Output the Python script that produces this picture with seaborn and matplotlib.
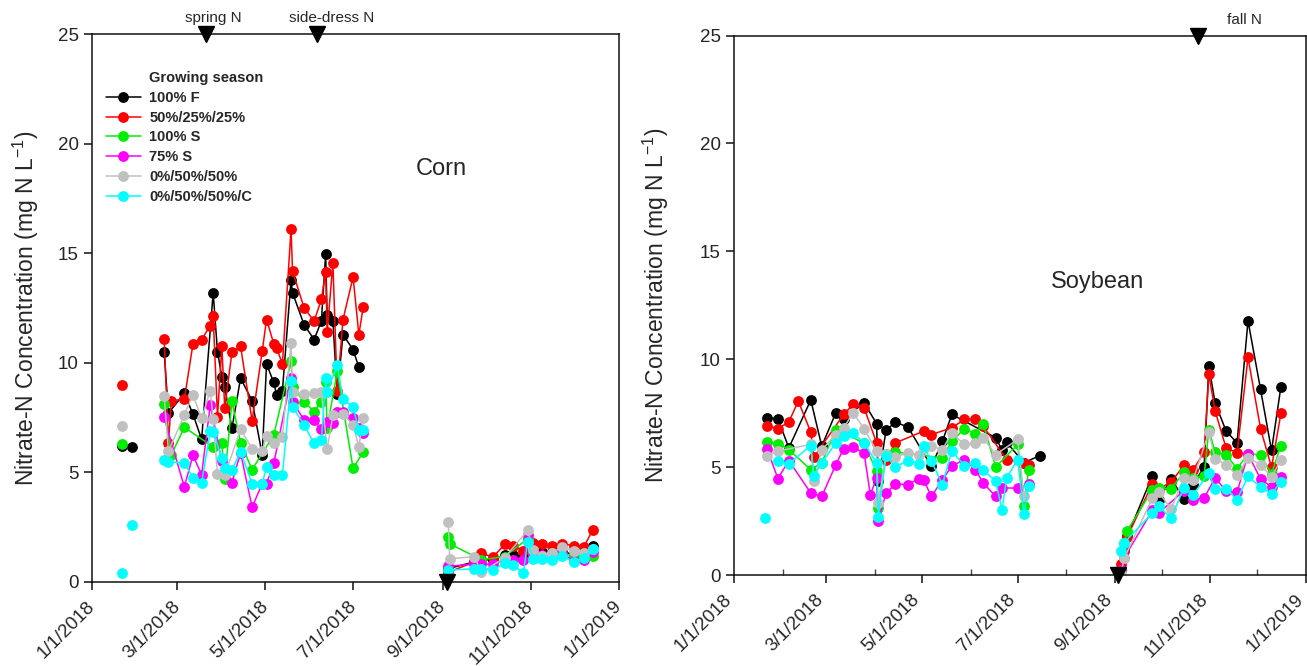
import numpy as np
import pandas as pd
import matplotlib
matplotlib.use("Agg")
import matplotlib.pyplot as plt
import matplotlib.dates as mdates
from matplotlib.lines import Line2D
from matplotlib.ticker import FuncFormatter
from matplotlib.transforms import ScaledTranslation
import seaborn as sns

nan = np.nan

series_names = ["100% F", "50%/25%/25%", "100% S", "75% S", "0%/50%/50%", "0%/50%/50%/C"]
series_colors = ["#000000", "#ff0000", "#00ee00", "#ff00ff", "#c0c0c0", "#00ffff"]

# ---------------- Corn ----------------
corn_dates = ["2018-01-22", "2018-01-29",
              "2018-02-20", "2018-02-23", "2018-02-25", "2018-03-06", "2018-03-12", "2018-03-18",
              "2018-03-24", "2018-03-26", "2018-03-29", "2018-04-01", "2018-04-03", "2018-04-08",
              "2018-04-14", "2018-04-22", "2018-04-29", "2018-05-02", "2018-05-07", "2018-05-09",
              "2018-05-13", "2018-05-19", "2018-05-20", "2018-05-28", "2018-06-04", "2018-06-09",
              "2018-06-12", "2018-06-13", "2018-06-17", "2018-06-20", "2018-06-24", "2018-07-01",
              "2018-07-05", "2018-07-08",
              "2018-09-05", "2018-09-06", "2018-09-23", "2018-09-28", "2018-10-06", "2018-10-14",
              "2018-10-20", "2018-10-27", "2018-10-30", "2018-11-03", "2018-11-09", "2018-11-16",
              "2018-11-23", "2018-12-01", "2018-12-08", "2018-12-14"]
corn_segment = [0, 1] + [2] * 32 + [3] * 16

corn_100F = [6.2, 6.15,
             10.5, 7.7, nan, 8.6, 7.65, 6.5, nan, 13.2, 10.5, 9.37, 8.9, 7.0, 9.3, 8.26, 5.8, 9.94,
             9.1, 8.53, 8.72, 13.8, 13.2, 11.74, 11.06, 11.9, 14.98, 12.16, 11.9, 8.58, 11.28, 10.6,
             9.79, nan,
             0.6, nan, 0.9, 1.0, 1.0, 1.2, 1.2, 1.15, 1.9, 1.4, 1.35, 1.35, 1.35, 1.27, 1.25, 1.65]
corn_50_25_25 = [9.0, nan,
                 11.1, 6.35, 8.27, 8.33, 10.86, 11.06, 11.7, 12.12, 7.54, 10.78, 7.95, 10.47, 10.75,
                 7.35, 10.52, 11.97, 10.87, 10.67, 9.95, 16.1, 14.19, 12.51, 11.9, 12.89, 14.14,
                 11.39, 14.54, 8.7, 11.97, 13.91, 11.28, 12.54,
                 0.43, nan, 0.9, 1.3, 1.12, 1.7, 1.64, 1.42, 1.9, 1.76, 1.7, 1.65, 1.73, 1.65, 1.6, 2.34]
corn_100S = [6.3, nan,
             8.1, nan, 5.8, 7.05, nan, nan, nan, 6.16, nan, 6.32, 4.71, 8.23, 6.35, 5.12, nan, nan,
             6.7, nan, nan, 10.06, 8.9, 8.22, 7.77, 8.22, 9.14, 7.0, nan, 9.6, nan, 5.17, nan, 5.93,
             2.06, 1.73, nan, 1.0, nan, 1.15, nan, nan, 1.96, 1.3, nan, 1.3, nan, 1.2, nan, 1.19]
corn_75S = [nan, nan,
            7.5, nan, nan, 4.33, 5.77, 4.89, 8.07, nan, nan, 5.52, nan, 4.53, 5.89, 3.4, 4.48, 4.48,
            5.4, nan, nan, 9.3, 8.22, 7.39, 7.39, 6.96, nan, 7.31, 7.23, 7.77, 7.77, 7.46, 7.0, 6.8,
            0.7, nan, 0.81, 0.8, 0.8, 1.0, 1.0, 1.0, 2.11, 1.2, 1.2, 1.15, 1.3, 0.95, 1.0, 1.35]
corn_0_50_50 = [7.1, nan,
                8.49, 5.96, nan, 7.61, 8.53, 7.46, 8.73, 7.42, 4.9, nan, 4.86, nan, 6.96, 6.06, 5.98,
                6.65, 6.32, nan, 6.62, 10.9, 8.68, 8.58, 8.64, 8.68, nan, 6.04, 7.61, nan, 7.66, 7.16,
                6.16, 7.46,
                2.72, 1.04, 1.15, 0.43, nan, 1.09, nan, nan, 2.34, 1.45, 1.19, 1.3, 1.6, 1.4, 1.3, 1.5]
corn_0_50_50_C = [0.4, 2.57,
                  5.58, 5.47, nan, 5.43, 4.74, 4.53, 6.88, 6.85, nan, 5.67, 5.17, 5.09, 5.93, 4.48,
                  4.48, 5.24, 4.86, nan, 4.86, 9.17, 8.0, 7.16, 6.32, 6.47, 9.3, 8.68, nan, 9.88, 8.35,
                  7.97, 6.93, 6.93,
                  0.54, nan, 0.58, 0.6, 0.54, 0.84, 0.78, 0.38, 1.8, 1.04, 1.04, 1.0, 1.19, 0.89, 1.09, 1.5]

# ---------------- Soybean ----------------
soy_dates = ["2018-01-21",
             "2018-01-22", "2018-01-29", "2018-02-05", "2018-02-11", "2018-02-19", "2018-02-21",
             "2018-02-26", "2018-03-07", "2018-03-12", "2018-03-18", "2018-03-25", "2018-03-29",
             "2018-04-02", "2018-04-03", "2018-04-08", "2018-04-14", "2018-04-22", "2018-04-29",
             "2018-05-02", "2018-05-07", "2018-05-14", "2018-05-20", "2018-05-28", "2018-06-04",
             "2018-06-09", "2018-06-17", "2018-06-21", "2018-06-24", "2018-07-01", "2018-07-05",
             "2018-07-08", "2018-07-15",
             "2018-09-05", "2018-09-07", "2018-09-09", "2018-09-25", "2018-09-29", "2018-10-07",
             "2018-10-15", "2018-10-21", "2018-10-28", "2018-10-31", "2018-11-04", "2018-11-11",
             "2018-11-18", "2018-11-25", "2018-12-03", "2018-12-10", "2018-12-16"]
soy_segment = [0] + [1] * 32 + [2] * 17

soy_100F = [nan,
            7.29, 7.24, 5.89, nan, 8.11, nan, 5.97, 7.52, 7.21, nan, 7.99, nan, 7.01, 4.34, 6.7, 7.09,
            6.85, nan, nan, 5.04, 6.2, 7.44, nan, nan, nan, 6.36, 5.8, 6.15, nan, 5.2, nan, 5.53,
            0.3, 1.2, 1.8, 4.6, 3.49, 4.47, 3.52, 4.19, 5.01, 9.69, 7.98, 6.67, 6.12, 11.78, 8.6, 5.77, 8.73]
soy_50_25_25 = [nan,
                6.9, 6.78, 7.09, 8.06, 6.62, 5.47, nan, nan, 7.44, 7.91, 7.75, nan, 6.12, nan, 5.35,
                6.12, nan, nan, 6.67, 6.51, nan, 6.82, 7.21, 7.21, 6.9, nan, nan, 5.35, nan, 5.2, 5.1, nan,
                0.5, 1.1, 1.78, 4.23, 4.0, 4.3, 5.08, 4.88, 5.69, 9.3, 7.6, 5.89, 5.66, 10.08, 6.78, 4.99, 7.49]
soy_100S = [nan,
            6.17, 6.09, 5.81, nan, 4.88, nan, 5.2, 6.74, 6.6, nan, 6.1, nan, 4.81, 3.1, 5.6, 5.7,
            nan, nan, nan, nan, 5.43, 6.2, 6.78, 6.54, 7.02, 5.0, nan, nan, 6.05, 3.18, 4.88, nan,
            nan, 1.5, 2.06, 3.95, 4.03, 4.0, 4.76, 4.5, 4.57, 6.74, 5.69, 5.58, 4.92, 5.63, 5.55, 4.7, 6.0]
soy_75S = [nan,
           5.86, 4.47, 5.3, nan, 3.8, nan, 3.64, 5.12, 5.86, 5.92, 5.66, 3.72, 4.5, 2.48, 3.8, 4.22,
           4.19, 4.47, 4.4, 3.64, 4.42, 5.04, 5.35, 4.88, 4.27, 3.64, 4.03, nan, 4.03, nan, 4.2, nan,
           0.23, 0.8, nan, 3.0, 2.87, nan, 3.9, 3.49, 3.57, nan, 4.5, 3.9, 3.83, 5.6, 4.45, 4.08, 4.54]
soy_0_50_50 = [nan,
               5.5, 5.74, nan, nan, 6.05, 4.34, 5.8, 6.51, 6.82, 7.52, 6.78, nan, 5.74, 3.33, 5.6,
               5.47, 5.66, 5.58, 5.9, 5.97, 5.81, 6.59, 6.05, 6.12, 6.36, 5.58, nan, nan, 6.28, 3.67,
               nan, nan,
               0.08, 0.78, nan, 3.57, 3.83, 3.06, 4.5, 4.42, nan, 6.62, 5.38, 5.12, 4.62, 5.43, 5.12, 4.53, 5.35]
soy_0_50_50_C = [2.64,
                 nan, 5.27, 5.15, nan, 6.0, 4.57, 5.2, 6.12, 6.43, 6.59, 6.12, nan, 5.2, 2.71, 5.53,
                 5.01, 5.3, 5.16, 5.97, 5.27, 4.19, 5.74, 5.07, 5.2, 4.88, 4.34, 3.02, 4.5, 5.35, 2.84,
                 4.14, nan,
                 1.13, 1.5, nan, 2.87, 3.18, 2.64, 4.03, 3.72, nan, 4.73, 3.99, 3.99, 3.49, 4.57, 4.08, 3.77, 4.31]

# fertilizer event markers
corn_events = ["2018-03-21", "2018-06-06"]
corn_event_labels = ["spring N", "side-dress N"]
corn_event_label_dates = ["2018-03-26", "2018-06-16"]
corn_harvest = "2018-09-04"
soy_events = ["2018-10-24"]
soy_event_labels = ["fall N"]
soy_event_label_dates = ["2018-11-23"]
soy_harvest = "2018-09-03"

yticks = [0, 5, 10, 15, 20, 25]
ylabel = "Nitrate-N Concentration (mg N L$^{-1}$)"


def build(dates, segs, cols):
    rows = []
    for name, vals in zip(series_names, cols):
        for d, s, v in zip(dates, segs, vals):
            if not np.isnan(v):
                rows.append((pd.Timestamp(d), s, name, v))
    return pd.DataFrame(rows, columns=["date", "seg", "series", "value"])


corn_df = build(corn_dates, corn_segment,
                [corn_100F, corn_50_25_25, corn_100S, corn_75S, corn_0_50_50, corn_0_50_50_C])
soy_df = build(soy_dates, soy_segment,
               [soy_100F, soy_50_25_25, soy_100S, soy_75S, soy_0_50_50, soy_0_50_50_C])

sns.set_style("ticks")
plt.rcParams["font.family"] = ["Liberation Sans", "DejaVu Sans"]
plt.rcParams["mathtext.fontset"] = "custom"
plt.rcParams["mathtext.rm"] = "Liberation Sans"
plt.rcParams["mathtext.default"] = "regular"

fig = plt.figure(figsize=(13.07, 6.66), dpi=100)
axL = fig.add_axes([92 / 1307, (666 - 581.7) / 666, 526.5 / 1307, 547.4 / 666])
axR = fig.add_axes([734 / 1307, (666 - 575) / 666, 572 / 1307, 539.5 / 666])

palette = dict(zip(series_names, series_colors))
MS = 7.8
LW = 1.1

for ax, df, dx in [(axL, corn_df, -4), (axR, soy_df, -8)]:
    sns.lineplot(data=df, x="date", y="value", hue="series", units="seg", estimator=None,
                 hue_order=series_names, palette=palette, marker="o", markersize=MS,
                 markeredgewidth=0, linewidth=LW, legend=False, ax=ax)
    ax.set_xlim(pd.Timestamp("2018-01-01"), pd.Timestamp("2019-01-01"))
    ax.set_ylim(0, 25)
    ax.set_yticks(yticks)
    ax.set_xlabel("")
    ax.set_ylabel(ylabel, fontsize=16.5)
    ax.xaxis.set_major_locator(mdates.MonthLocator(bymonth=[1, 3, 5, 7, 9, 11]))
    ax.xaxis.set_major_formatter(FuncFormatter(
        lambda x, pos: (lambda d: f"{d.month}/{d.day}/{d.year}")(mdates.num2date(x))))
    ax.tick_params(axis="both", which="major", direction="out", length=6, width=1.1,
                   labelsize=13.5, color="#111111")
    for sp in ax.spines.values():
        sp.set_visible(True)
        sp.set_linewidth(1.1)
        sp.set_color("#111111")
    for lab in ax.get_xticklabels():
        lab.set_rotation(45)
        lab.set_ha("right")
        lab.set_rotation_mode("anchor")
        lab.set_transform(lab.get_transform() + ScaledTranslation(dx / 72, -2 / 72, fig.dpi_scale_trans))
    ax.grid(False)

axR.xaxis.set_minor_locator(mdates.MonthLocator(bymonth=[2, 4, 6, 8, 10, 12]))
axR.tick_params(axis="x", which="minor", direction="in", length=4, width=1.0, color="#444444")

axL.yaxis.set_label_coords(-0.097, 0.5)
axR.yaxis.set_label_coords(-0.11, 0.5)

# event triangles
tri = dict(marker="v", color="black", markersize=12, linestyle="none", clip_on=False, zorder=20)
for d in corn_events:
    axL.plot([pd.Timestamp(d)], [25], **tri)
for d, t in zip(corn_event_label_dates, corn_event_labels):
    axL.annotate(t, xy=(pd.Timestamp(d), 25), xytext=(0, 7), textcoords="offset points",
                 ha="center", va="bottom", fontsize=11, annotation_clip=False)
axL.plot([pd.Timestamp(corn_harvest)], [0], **tri)
for d in soy_events:
    axR.plot([pd.Timestamp(d)], [25], **tri)
for d, t in zip(soy_event_label_dates, soy_event_labels):
    axR.annotate(t, xy=(pd.Timestamp(d), 25), xytext=(0, 6), textcoords="offset points",
                 ha="center", va="bottom", fontsize=11, annotation_clip=False)
axR.plot([pd.Timestamp(soy_harvest)], [0], **tri)

axL.text(pd.Timestamp("2018-08-31"), 18.85, "Corn", ha="center", va="center", fontsize=17)
axR.text(pd.Timestamp("2018-08-21"), 13.6, "Soybean", ha="center", va="center", fontsize=17)

# legend
handles = [Line2D([], [], linestyle="none", marker="")]
for c in series_colors:
    handles.append(Line2D([], [], color=c, marker="o", markersize=MS, markeredgewidth=0, lw=LW))
labels = ["Growing season"] + series_names
axL.legend(handles, labels, loc="upper left", bbox_to_anchor=(0.026, 0.933), frameon=False,
           prop={"weight": "bold", "size": 10.5}, handlelength=2.4, handletextpad=0.6,
           labelspacing=0.4, borderaxespad=0, borderpad=0)

fig.savefig("out.png", dpi=100)
